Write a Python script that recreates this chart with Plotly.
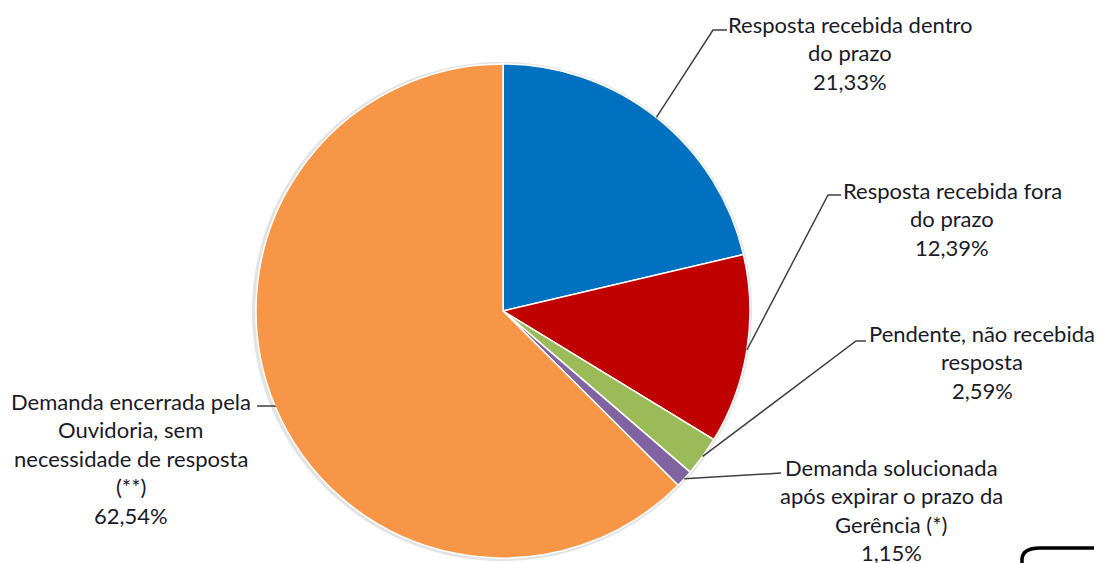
import math
import plotly.graph_objects as go

W, H = 1102, 563
OFF = 8  # page body margin offset
FW, FH = W - OFF, H - OFF

# ---- data ----
categories = [
    "Resposta recebida dentro do prazo",
    "Resposta recebida fora do prazo",
    "Pendente, não recebida resposta",
    "Demanda solucionada após expirar o prazo da Gerência (*)",
    "Demanda encerrada pela Ouvidoria, sem necessidade de resposta (**)",
]
values = [21.33, 12.39, 2.59, 1.15, 62.54]
label_lines = [
    ["Resposta recebida dentro", "do prazo"],
    ["Resposta recebida fora", "do prazo"],
    ["Pendente, não recebida", "resposta"],
    ["Demanda solucionada", "após expirar o prazo da", "Gerência (*)"],
    ["Demanda encerrada pela", "Ouvidoria, sem", "necessidade de resposta", "(**)"],
]
colors = ["#0070C0", "#C00000", "#9BBB59", "#8064A2", "#F79646"]

# ---- layout (window pixels) ----
cx, cy, R = 503, 311, 247
text_pos = [(850, 24), (952, 190), (982, 333), (891, 467), (131, 401)]
line_gap = 28.5
elbows = [((713, 30), (727, 30)), ((828, 195), (841, 195)), ((856, 341), (866, 341)),
          ((781, 473), (781, 473)), ((275, 406), (257, 406))]


def px(x, y):
    return (x - OFF) / FW, 1 - (y - OFF) / FH


fig = go.Figure()
dx0, dy0 = px(cx - R, cy + R)
dx1, dy1 = px(cx + R, cy - R)
fig.add_trace(go.Pie(
    labels=categories, values=values, sort=False, direction="clockwise",
    rotation=0, textinfo="none", hoverinfo="label+percent",
    marker=dict(colors=colors, line=dict(color="white", width=1.5)),
    domain=dict(x=[dx0, dx1], y=[max(dy0, 0), dy1]),
    showlegend=False,
))

shapes = []
x0, y0 = px(cx - R - 4, cy - R - 2)
x1, y1 = px(cx + R + 2, cy + R + 3)
shapes.append(dict(type="circle", xref="paper", yref="paper", x0=x0, y0=y1, x1=x1, y1=y0,
                   fillcolor="#e3e3e3", line=dict(width=0), layer="below"))

annotations = []
total = sum(values)
cum = 0
for i, v in enumerate(values):
    mid = (cum + v / 2) / total * 2 * math.pi
    cum += v
    ex, ey = cx + R * math.sin(mid), cy - R * math.cos(mid)
    (bx, by), (tx, ty) = elbows[i]
    pts = [px(ex, ey), px(bx, by), px(tx, ty)]
    path = "M {} {} L {} {} L {} {}".format(*[c for p in pts for c in p])
    shapes.append(dict(type="path", xref="paper", yref="paper", path=path,
                       line=dict(color="#404040", width=1.5)))
    lines = label_lines[i] + [f"{v:.2f}%".replace(".", ",")]
    tcx, ty0 = text_pos[i]
    for k, ln in enumerate(lines):
        ax, ay = px(tcx, ty0 + k * line_gap)
        annotations.append(dict(x=ax, y=ay, xref="paper", yref="paper", text=ln,
                                showarrow=False, xanchor="center", yanchor="middle",
                                font=dict(family="Lato", size=22, color="#1a1a28")))

# rounded box corner at bottom right
a = px(1022, 570)
b = px(1022, 560)
c = px(1040, 548)
d = px(1110, 548)
shapes.append(dict(type="path", xref="paper", yref="paper",
                   path=f"M {a[0]} {a[1]} L {b[0]} {b[1]} Q {b[0]} {c[1]} {c[0]} {c[1]} L {d[0]} {d[1]}",
                   line=dict(color="black", width=3.5)))

fig.update_layout(
    width=FW, height=FH, margin=dict(l=0, r=0, t=0, b=0),
    paper_bgcolor="white", plot_bgcolor="white",
    shapes=shapes, annotations=annotations,
)
fig.write_html("out.html")
